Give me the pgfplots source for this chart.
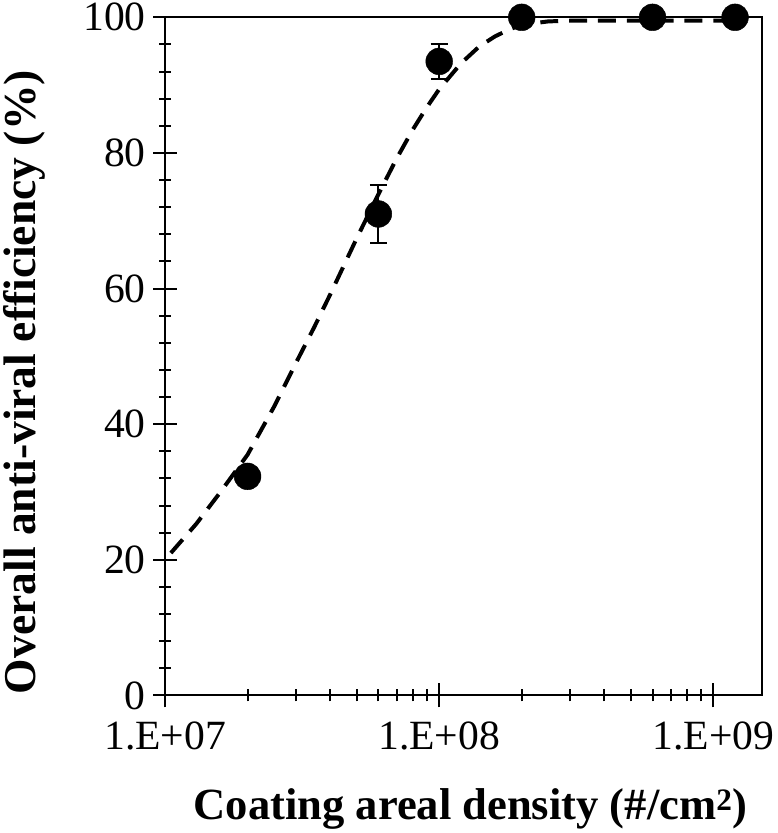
\documentclass[border=0pt]{standalone}
\usepackage{fontspec}
\setmainfont{Liberation Serif}
\usepackage{pgfplots}
\pgfplotsset{compat=1.18}

\begin{document}
\begin{tikzpicture}
\begin{axis}[
    scale only axis,
    width=600bp, height=682bp,
    xmode=log,
    xmin=1e7, xmax=1.5e9,
    ymin=0, ymax=100,
    clip=false,
    axis line style={line width=2bp},
    tick style={black, line width=2bp},
    xtick pos=bottom, ytick pos=left,
    tick align=center,
    major tick length=24bp,
    minor tick length=12bp,
    xtick={1e7,1e8,1e9},
    xticklabels={1.E+07,1.E+08,1.E+09},
    ytick={0,20,...,100},
    minor y tick num=4,
    tick label style={font=\fontsize{42}{48}\selectfont},
    label style={font=\fontsize{45}{52}\selectfont\bfseries},
    /pgf/number format/assume math mode=true,
    yticklabel style={xshift=-4bp},
    xticklabel style={yshift=-11bp},
    xlabel={Coating areal density (\#/cm\textsuperscript{2})},
    ylabel={Overall anti-viral efficiency (\%)},
    xlabel style={at={(axis description cs:0.512,-0.168)}, anchor=center},
    ylabel style={at={(axis description cs:-0.236,0.462)}, anchor=center,
        font=\fontsize{46}{53}\selectfont\bfseries},
]
% fitted trend (dashed)
\addplot[black, line width=4bp, dash pattern=on 18bp off 11bp] coordinates {
    (1.05e7, 21.0)
    (1.3e7, 25.3)
    (1.6e7, 30.1)
    (2.0e7, 35.5)
    (2.5e7, 42.6)
    (3.0e7, 49.0)
    (3.5e7, 54.3)
    (4.0e7, 59.1)
    (5.0e7, 67.4)
    (6.0e7, 73.9)
    (7.0e7, 79.2)
    (8.0e7, 83.4)
    (9.0e7, 86.7)
    (1.0e8, 89.4)
    (1.2e8, 93.2)
    (1.4e8, 95.7)
    (1.6e8, 97.2)
    (1.8e8, 98.2)
    (2.0e8, 98.9)
    (2.5e8, 99.4)
    (3.0e8, 99.5)
    (6.0e8, 99.5)
    (1.2e9, 99.5)
};
% measured values
\addplot[black, only marks, mark=*, mark size=13.5bp,
    error bars/.cd, y dir=both, y explicit,
    error bar style={line width=2bp},
    error mark options={rotate=90, mark size=8.5bp, line width=2bp}]
    coordinates {
    (2e7, 32.3) +- (0, 1.0)
    (6e7, 71.0) +- (0, 4.3)
    (1e8, 93.5) +- (0, 2.6)
    (2e8, 100) +- (0, 0)
    (6e8, 100) +- (0, 0)
    (1.2e9, 100) +- (0, 0)
};
\end{axis}
\end{tikzpicture}
\end{document}
